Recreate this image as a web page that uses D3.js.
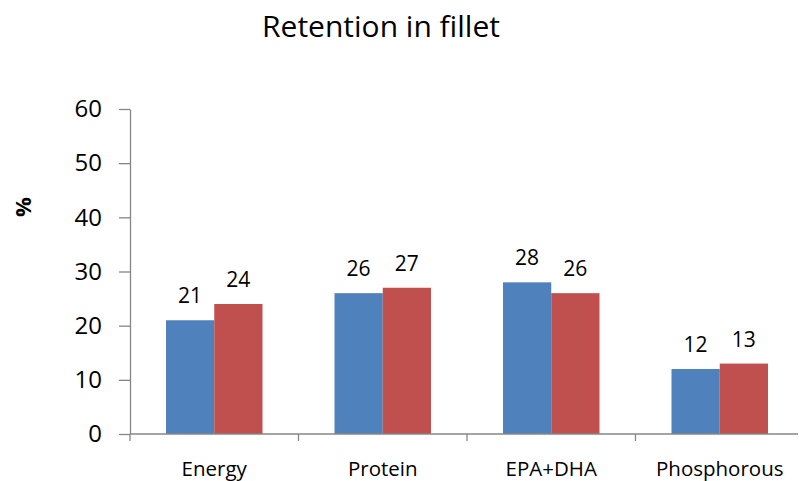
<!DOCTYPE html>
<html>
<head>
<meta charset="utf-8">
<script src="https://cdn.jsdelivr.net/npm/d3@7"></script>
<style>
  html, body { margin: 0; padding: 0; background: #fff; }
  svg { display: block; font-family: "Open Sans", sans-serif; }
</style>
</head>
<body>
<svg id="chart" width="799" height="481"></svg>
<script>
const title = "Retention in fillet";
const categories = ["Energy", "Protein", "EPA+DHA", "Phosphorous"];
const seriesNames = ["Series A", "Series B"];
const seriesA = [21, 26, 28, 12];
const seriesB = [24, 27, 26, 13];
const yTicks = [0, 10, 20, 30, 40, 50, 60];
const colors = ["#4F81BD", "#C0504D"];

const svg = d3.select("#chart");
const x0 = d3.scaleBand().domain(categories).range([130, 804]).paddingInner(0).paddingOuter(0);
const y = d3.scaleLinear().domain([0, 60]).range([434, 109]);
const x1 = d3.scaleBand().domain(seriesNames).range([36, x0.bandwidth() - 36]).padding(0);

const data = categories.map((c, i) => ({cat: c, vals: [seriesA[i], seriesB[i]]}));

// Bars
const groups = svg.append("g").selectAll("g").data(data).join("g")
  .attr("transform", d => `translate(${x0(d.cat)},0)`);
groups.selectAll("rect").data(d => d.vals.map((v, j) => ({v, j})))
  .join("rect")
  .attr("x", d => x1(seriesNames[d.j]))
  .attr("width", x1.bandwidth())
  .attr("y", d => y(d.v))
  .attr("height", d => y(0) - y(d.v))
  .attr("fill", d => colors[d.j]);
groups.selectAll("text").data(d => d.vals.map((v, j) => ({v, j})))
  .join("text")
  .attr("x", d => x1(seriesNames[d.j]) + x1.bandwidth() / 2)
  .attr("y", d => y(d.v) - 17)
  .attr("text-anchor", "middle")
  .attr("font-size", 21)
  .attr("fill", "#000")
  .text(d => d.v);

// Y axis
const yAxis = svg.append("g").attr("transform", "translate(130,0)")
  .call(d3.axisLeft(y).tickValues(yTicks).tickSize(11).tickSizeOuter(0).tickPadding(17));
yAxis.select(".domain").attr("stroke", "#868686").attr("stroke-width", 1.3);
yAxis.selectAll(".tick line").attr("stroke", "#868686").attr("stroke-width", 1.3);
yAxis.selectAll(".tick text").attr("font-size", 24).attr("fill", "#000")
  .attr("font-family", "Open Sans, sans-serif");

// X axis
const xAxis = svg.append("g").attr("transform", "translate(0,434)");
xAxis.append("line").attr("x1", 130).attr("x2", 798).attr("y1", 0).attr("y2", 0)
  .attr("stroke", "#868686").attr("stroke-width", 1.3);
const tickXs = categories.map(c => x0(c)).concat([x0(categories[categories.length - 1]) + x0.bandwidth()]);
xAxis.selectAll("line.t").data(tickXs.filter(t => t <= 799)).join("line").attr("class", "t")
  .attr("x1", d => d).attr("x2", d => d).attr("y1", 0).attr("y2", 7)
  .attr("stroke", "#868686").attr("stroke-width", 1.3);
xAxis.selectAll("text").data(categories).join("text")
  .attr("x", d => x0(d) + x0.bandwidth() / 2)
  .attr("y", 42)
  .attr("text-anchor", "middle")
  .attr("font-size", 20.5)
  .attr("fill", "#000")
  .text(d => d);

// Title
svg.append("text").attr("x", 381).attr("y", 37).attr("text-anchor", "middle")
  .attr("font-size", 30).attr("fill", "#000").text(title);

// Y label
svg.append("text").attr("transform", "translate(31,207) rotate(-90)")
  .attr("text-anchor", "middle").attr("font-size", 22).attr("font-weight", "bold")
  .attr("fill", "#000").text("%");
</script>
</body>
</html>
